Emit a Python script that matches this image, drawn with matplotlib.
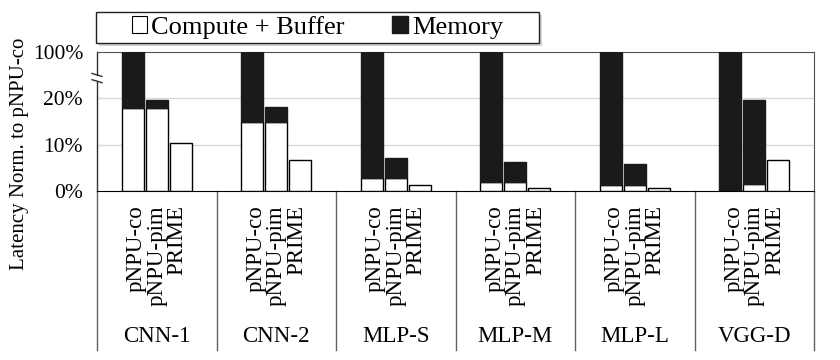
import numpy as np
import matplotlib.pyplot as plt
from matplotlib.patches import Rectangle, Patch
import matplotlib.transforms as mtransforms

plt.rcParams['font.family'] = ['Liberation Serif', 'DejaVu Serif']

# latency normalised to pNPU-co, in percent
workloads = ['CNN-1', 'CNN-2', 'MLP-S', 'MLP-M', 'MLP-L', 'VGG-D']
designs = ['pNPU-co', 'pNPU-pim', 'PRIME']
compute = [[17.9, 17.9, 10.4],
           [15.0, 15.0, 6.6],
           [2.9, 2.9, 1.4],
           [1.9, 1.9, 0.7],
           [1.4, 1.4, 0.6],
           [0.2, 1.5, 6.7]]
total = [[100, 19.6, 10.4],
         [100, 18.1, 6.6],
         [100, 7.2, 1.4],
         [100, 6.2, 0.7],
         [100, 5.8, 0.6],
         [100, 19.7, 6.7]]
ytick_vals = [0, 10, 20, 100]
ytick_labels = ['0%', '10%', '20%', '100%']

def squash(v):
    # broken axis: 0-20% linear, 20-100% squeezed into one grid step
    v = np.asarray(v, dtype=float)
    return np.where(v <= 20, v, 20 + (v - 20) * 10 / 80)

fig = plt.figure(figsize=(8.4, 3.6), dpi=100)
ax = fig.add_axes([97/840, 1 - 191/360, 717/840, 139/360])

step, width = 0.2, 0.184
for i in range(len(workloads)):
    for j in range(len(designs)):
        x = i + (j - 1) * step
        c = squash(compute[i][j])
        t = squash(total[i][j])
        ax.bar(x, c, width, color='white', edgecolor='black', linewidth=1, zorder=3)
        if t > c:
            ax.bar(x, t - c, width, bottom=c, color='#1a1a1a', edgecolor='#1a1a1a',
                   linewidth=1, zorder=3)

ax.set_xlim(-0.5, len(workloads) - 0.5)
ax.set_ylim(0, 30)
ax.set_yticks(squash(ytick_vals))
ax.set_yticklabels(ytick_labels, fontsize=15.5)
ax.tick_params(axis='y', length=0, pad=10)
ax.set_xticks([])
for y in squash([10, 20]):
    ax.axhline(y, color='#d9d9d9', lw=1, zorder=1)

for s in ['top', 'right']:
    ax.spines[s].set_color('#505050')
ax.spines['bottom'].set_color('black')
ax.spines['left'].set_visible(False)

# left spine with break marks
lo, hi = 0.79, 0.835
ax.plot([0, 0], [0, lo], transform=ax.transAxes, color='#303030', lw=1, clip_on=False)
ax.plot([0, 0], [hi, 1], transform=ax.transAxes, color='#303030', lw=1, clip_on=False)
dx, dy = 5/717, 1.5/139
for yb in [lo, hi]:
    ax.plot([-dx, dx], [yb + dy, yb - dy], transform=ax.transAxes, color='#303030',
            lw=1, clip_on=False)

# category area below the axis
trans = mtransforms.blended_transform_factory(ax.transData, ax.transAxes)
for k in range(len(workloads) + 1):
    ax.plot([k - 0.5, k - 0.5], [0, -159/139], transform=trans, color='#606060',
            lw=1, clip_on=False)
for i, name in enumerate(workloads):
    ax.text(i, -14/139, '\n'.join(designs), transform=trans, rotation=90,
            ha='center', va='top', multialignment='right', fontsize=16.5,
            linespacing=0.95)
    ax.text(i, -146/139, name, transform=trans, ha='center', va='center', fontsize=16.5)

fig.text(20/840, 1 - 154/360, 'Latency Norm. to pNPU-co', rotation=90,
         ha='center', va='center', fontsize=15)

# legend box with shadow
bx, by, bw, bh = 96/840, 1 - 43/360, 443/840, 31/360
fig.patches.append(Rectangle((bx + 3/840, by - 3/360), bw, bh, transform=fig.transFigure,
                             facecolor='#bfbfbf', edgecolor='none', alpha=0.7, zorder=1))
fig.patches.append(Rectangle((bx, by), bw, bh, transform=fig.transFigure,
                             facecolor='white', edgecolor='#202020', lw=1, zorder=2))
handles = [Patch(facecolor='white', edgecolor='black', lw=0.8, label='Compute + Buffer'),
           Patch(facecolor='#1a1a1a', edgecolor='#1a1a1a', label='Memory')]
leg = fig.legend(handles=handles, loc='center', bbox_to_anchor=(bx, by, bw, bh),
                 ncol=2, frameon=False, fontsize=19, handlelength=0.6, handleheight=0.6,
                 handletextpad=0.15, columnspacing=1.8, borderaxespad=0)
leg.set_zorder(3)

fig.savefig('out.png', dpi=100)
